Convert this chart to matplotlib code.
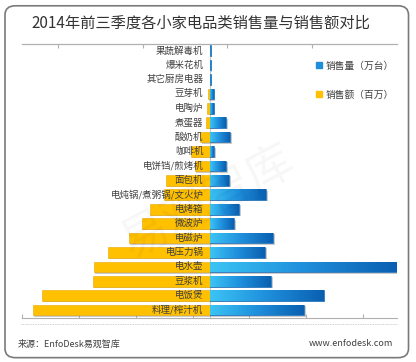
import numpy as np
import matplotlib
matplotlib.use("Agg")
import matplotlib.pyplot as plt
from matplotlib.colors import LinearSegmentedColormap
from matplotlib.patches import FancyBboxPatch
import matplotlib.patheffects as pe

plt.rcParams['font.family'] = ['Noto Sans CJK SC', 'DejaVu Sans']

# categories top to bottom
categories = ['果蔬解毒机', '爆米花机', '其它厨房电器', '豆芽机', '电陶炉', '煮蛋器', '酸奶机',
              '咖啡机', '电饼铛/煎烤机', '面包机', '电炖锅/煮粥锅/文火炉', '电烤箱', '微波炉',
              '电磁炉', '电压力锅', '电水壶', '豆浆机', '电饭煲', '料理/榨汁机']
# bar lengths (relative units, no tick labels shown)
sales_amount = [0.4, 0.5, 0.5, 2.5, 3, 4.5, 10, 20, 16, 45, 47, 61, 69, 82, 103, 117, 118, 169, 178]
sales_volume = [0.5, 0.5, 0.5, 3.5, 3.3, 16, 20, 4, 16, 19, 56, 29, 24, 63, 55, 187, 61, 114, 94]

label_amount = '销售额（百万）'
label_volume = '销售量（万台）'
title = '2014年前三季度各小家电品类销售量与销售额对比'
source = '来源：EnfoDesk易观智库'
site = 'www.enfodesk.com'

fig = plt.figure(figsize=(4.16, 3.62), dpi=100)
fig.patch.set_facecolor('white')

# rounded frame
frame = FancyBboxPatch((0.012, 0.012), 0.970, 0.972, boxstyle='round,pad=0,rounding_size=0.025',
                       transform=fig.transFigure, facecolor='white', edgecolor='#7a7a7a',
                       linewidth=1.2, zorder=-5)
fig.add_artist(frame)

ax = fig.add_axes([0.053, 0.1215, 0.901, 0.757])
ax.set_facecolor('none')
ax.set_zorder(2)

y = np.arange(len(categories))
h = 0.74
orange = '#FFC000'
shadow = [pe.SimplePatchShadow(offset=(1, -1), shadow_rgbFace='#999999', alpha=0.5), pe.Normal()]

ax.barh(y, -np.array(sales_amount), height=h, color=orange, edgecolor='#e8a800',
        linewidth=0.4, zorder=2, path_effects=shadow)

blue_cmap = LinearSegmentedColormap.from_list('bl', ['#3cc4f4', '#1f8fdc', '#0a5fb0'])
grad = np.linspace(0, 1, 256).reshape(1, -1)
bars = ax.barh(y, sales_volume, height=h, color='#1f8fdc', edgecolor='#0a5fb0',
               linewidth=0.4, zorder=2, path_effects=shadow)
for b in bars:
    x0, y0 = b.get_x(), b.get_y()
    w, hh = b.get_width(), b.get_height()
    im = ax.imshow(grad, cmap=blue_cmap, extent=(x0, x0 + w, y0 + hh, y0), aspect='auto',
                   zorder=3, interpolation='bicubic')
    im.set_clip_path(b)

for yi, name in zip(y, categories):
    ax.text(-7, yi, name, ha='right', va='center', fontsize=6.8, color='#404040', zorder=5)

ax.set_xlim(-188, 187)
ax.set_ylim(len(categories) - 0.45, -0.46)
ax.axvline(0, color='#c8c8c8', linewidth=0.8, zorder=1)

for s in ['left', 'right']:
    ax.spines[s].set_visible(False)
ax.spines['top'].set_color('#b0b0b0')
ax.spines['bottom'].set_color('#b0b0b0')
ax.set_yticks([])
ax.set_xticks(np.arange(-189, 190, 57))
ax.set_xticklabels([])
ax.tick_params(axis='x', direction='in', length=3, color='#b0b0b0')
top = ax.secondary_xaxis('top')
top.set_xticks(np.arange(-153, 187, 85))
top.set_xticklabels([])
top.tick_params(direction='in', length=3, color='#b0b0b0')
top.spines['top'].set_color('#b0b0b0')

# dotted line under the bottom axis
fig.add_artist(plt.Line2D([0.05, 0.955], [0.105, 0.105], transform=fig.transFigure,
                          color='#c0c0c0', linewidth=0.6, linestyle=(0, (1, 1))))

# legend
h1 = plt.Rectangle((0, 0), 1, 1, color='#1f8fdc')
h2 = plt.Rectangle((0, 0), 1, 1, color=orange)
fig.legend([h1, h2], [label_volume, label_amount], loc='upper left',
           bbox_to_anchor=(0.738, 0.857), frameon=False, fontsize=7, handlelength=0.6,
           handleheight=0.6, handletextpad=0.4, labelspacing=1.95, labelcolor='#404040')

# watermark
fig.text(0.50, 0.44, '易观智库', fontsize=34, color='#000000', alpha=0.035, rotation=28,
         ha='center', va='center', zorder=10)

fig.text(0.483, 0.935, title, ha='center', va='center', fontsize=11, color='#333333')
fig.text(0.043, 0.05, source, ha='left', va='center', fontsize=6.5, color='#404040')
fig.text(0.945, 0.05, site, ha='right', va='center', fontsize=6.5, color='#404040')

fig.savefig('out.png', dpi=100, facecolor='white')
